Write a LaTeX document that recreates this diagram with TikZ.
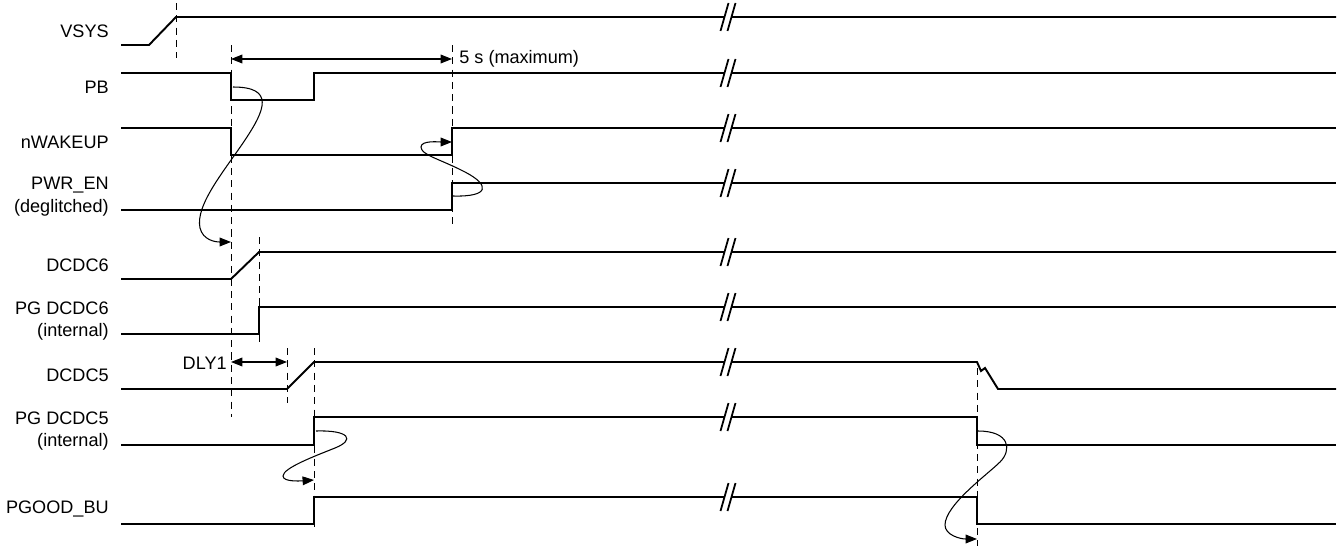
\documentclass[tikz,border=0pt]{standalone}
\usepackage{fontspec}
\setmainfont{Liberation Sans}
\usetikzlibrary{arrows.meta}
\newcommand{\lblfont}{\fontsize{10.3}{13}\selectfont}
\tikzset{brk/.pic={
	\fill[white] (-7,14) -- (1,-14) -- (8,-14) -- (0,14) -- cycle;
	\draw[line width=1pt] (-7,14) -- (1,-14) (0,14) -- (8,-14);}}

\begin{document}
\begin{tikzpicture}
  [x=0.02cm,y=-0.02cm,every node/.style={font=\lblfont,inner sep=0pt},
   sig/.style={line width=1.1pt},
   guide/.style={line width=0.5pt,dash pattern=on 4pt off 3pt},
   cause/.style={line width=0.6pt,-{Triangle[length=6.5pt,width=5pt]}},
   span/.style={line width=0.6pt,{Triangle[length=6.5pt,width=5pt]}-{Triangle[length=6.5pt,width=5pt]}}]
  \useasboundingbox (0,0) rectangle (1341,548);
  % signal names
  \node[anchor=east] (vsys) at (109,31) {VSYS};
  \node[anchor=east] (pb) at (109,87) {PB};
  \node[anchor=east] (nwake) at (109,142) {nWAKEUP};
  \node[anchor=east,align=right] (pwren) at (109,197) {PWR\_EN\\(deglitched)};
  \node[anchor=east] (dcdc6) at (109,265) {DCDC6};
  \node[anchor=east,align=right] (pg6) at (109,321) {PG DCDC6\\(internal)};
  \node[anchor=east] (dcdc5) at (109,375) {DCDC5};
  \node[anchor=east,align=right] (pg5) at (109,431) {PG DCDC5\\(internal)};
  \node[anchor=east] (pgood) at (109,509) {PGOOD\_BU};
  % waveforms
  \draw[sig] (121,45) -- (149,45) -- (176,17) -- (1336,17);
  \draw[sig] (121,73) -- (231,73) -- (231,100) -- (314,100) -- (314,73) -- (1336,73);
  \draw[sig] (121,128) -- (231,128) -- (231,155) -- (452,155) -- (452,128) -- (1336,128);
  \draw[sig] (121,210) -- (452,210) -- (452,183) -- (1336,183);
  \draw[sig] (121,279) -- (231,279) -- (259,252) -- (1336,252);
  \draw[sig] (121,334) -- (259,334) -- (259,307) -- (1336,307);
  \draw[sig] (121,389) -- (287,389) -- (314,362) -- (977,362) -- (981,371) -- (985,368) -- (998,389) -- (1336,389);
  \draw[sig] (121,445) -- (314,445) -- (314,417) -- (977,417) -- (977,445) -- (1336,445);
  \draw[sig] (121,524) -- (314,524) -- (314,497) -- (977,497) -- (977,524) -- (1336,524);
  \foreach \y in {17,73,128,183,252,307,362,417,497}
    \pic at (727.5,\y) {brk};
  % timing guides
  \foreach \x/\ya/\yb in {176/3/58,231/45/417,452/45/224,259/237/342,287/348/403,314/348/532,977/368/546}
    \draw[guide] (\x,\ya) -- (\x,\yb);
  % intervals
  \coordinate (t0) at (231,59);
  \coordinate (t1) at (452,59);
  \draw[span] (t0) -- (t1);
  \node[anchor=west] (tmax) at (459,59) {5 s (maximum)};
  \coordinate (d0) at (231,362);
  \coordinate (d1) at (287,362);
  \draw[span] (d0) -- (d1);
  \node[anchor=east] (dly) at (227,363) {DLY1};
  % cause and effect
  \coordinate (pbfall) at (233,87);
  \coordinate (dcdc6on) at (231,242);
  \coordinate (enrise) at (453,196);
  \coordinate (wakerise) at (452,142);
  \coordinate (pg5rise) at (316,431);
  \coordinate (pgoodrise) at (314,480);
  \coordinate (pg5fall) at (978,431);
  \coordinate (pgoodfall) at (977,539);
  \draw[cause] (pbfall) .. controls (275,87) and (265,110) .. (245,140)
    .. controls (225,170) and (195,205) .. (200,228)
    .. controls (203,240) and (215,242) .. (dcdc6on);
  \draw[cause] (enrise) .. controls (490,197) and (490,185) .. (465,172)
    .. controls (440,159) and (421,155) .. (421,147)
    .. controls (421,140) and (440,142) .. (wakerise);
  \draw[cause] (pg5rise) .. controls (350,430) and (355,440) .. (335,448)
    .. controls (315,456) and (283,468) .. (283,476)
    .. controls (283,482) and (300,481) .. (pgoodrise);
  \draw[cause] (pg5fall) .. controls (1010,431) and (1012,450) .. (1000,462)
    .. controls (988,474) and (945,505) .. (945,525)
    .. controls (945,535) and (960,539) .. (pgoodfall);
\end{tikzpicture}
\end{document}
